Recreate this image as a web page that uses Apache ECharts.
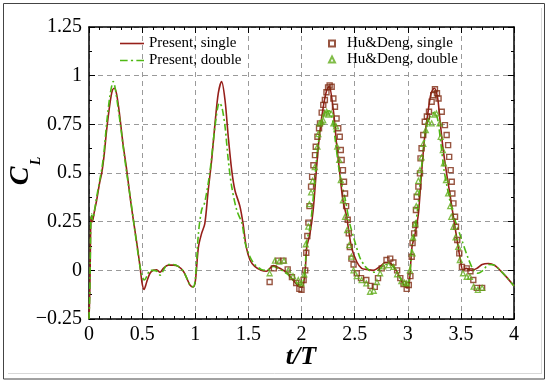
<!DOCTYPE html>
<html><head><meta charset="utf-8">
<script src="https://cdn.jsdelivr.net/npm/echarts@6/dist/echarts.min.js"></script>
<style>html,body{margin:0;padding:0;background:#fff}#c{width:550px;height:382px}</style>
</head><body><div id="c"></div>
<script>
// ---- data ----
const xTicks = [0,0.5,1,1.5,2,2.5,3,3.5,4];
const yTicks = [-0.25,0,0.25,0.5,0.75,1,1.25];
const seriesNames = ['Present, single','Present, double','Hu&Deng, single','Hu&Deng, double'];

const presentSingle = [
[0.0,-0.25],[0.008,-0.1],[0.014,0.15],[0.018,0.26],[0.025,0.28],[0.032,0.25],[0.04,0.27],[0.05,0.3],[0.072,0.36],[0.1,0.45],[0.12,0.5],[0.14,0.58],[0.166,0.72],[0.198,0.86],[0.22,0.925],[0.238,0.935],[0.26,0.905],[0.29,0.79],[0.32,0.65],[0.355,0.515],[0.386,0.38],[0.417,0.26],[0.45,0.14],[0.48,0.02],[0.5,-0.067],[0.518,-0.098],[0.543,-0.06],[0.574,-0.015],[0.605,0.0],[0.637,0.003],[0.668,-0.01],[0.70,0.01],[0.746,0.027],[0.793,0.027],[0.84,0.02],[0.888,-0.005],[0.92,-0.04],[0.95,-0.075],[0.98,-0.085],
[1.0,-0.06],[1.03,0.12],[1.06,0.19],[1.09,0.24],[1.12,0.40],[1.155,0.57],[1.186,0.755],[1.217,0.91],[1.248,0.97],[1.28,0.875],[1.31,0.69],[1.343,0.515],[1.374,0.41],[1.42,0.33],[1.45,0.24],[1.48,0.12],[1.515,0.053],[1.56,0.02],[1.62,0.0],[1.67,-0.005],[1.735,0.025],[1.78,0.015],[1.83,0.0],[1.87,-0.015],[1.92,-0.05],[1.96,-0.075],[1.99,-0.085],
[2.015,-0.08],[2.035,0.0],[2.05,0.12],[2.08,0.19],[2.11,0.31],[2.14,0.515],[2.17,0.70],[2.205,0.84],[2.237,0.925],[2.26,0.945],[2.3,0.82],[2.33,0.65],[2.36,0.50],[2.39,0.36],[2.425,0.275],[2.47,0.12],[2.52,0.044],[2.566,0.01],[2.61,0.005],[2.675,0.0],[2.74,0.02],[2.79,0.04],[2.84,0.035],[2.88,0.01],[2.93,-0.04],[2.97,-0.08],[2.995,-0.09],
[3.015,-0.06],[3.04,0.12],[3.07,0.19],[3.10,0.29],[3.13,0.50],[3.16,0.69],[3.19,0.81],[3.22,0.91],[3.25,0.935],[3.28,0.89],[3.30,0.79],[3.33,0.635],[3.365,0.50],[3.40,0.38],[3.43,0.275],[3.46,0.17],[3.49,0.07],[3.52,0.0],[3.55,0.01],[3.6,0.0],[3.65,0.01],[3.70,0.03],[3.76,0.035],[3.82,0.025],[3.87,0.0],[3.93,-0.035],[4.0,-0.08]
];

const presentDouble = [
[0.0,-0.25],[0.008,-0.1],[0.014,0.15],[0.018,0.26],[0.025,0.29],[0.032,0.26],[0.04,0.27],[0.05,0.3],[0.07,0.37],[0.1,0.46],[0.12,0.52],[0.14,0.6],[0.165,0.75],[0.195,0.89],[0.215,0.95],[0.228,0.97],[0.245,0.94],[0.27,0.85],[0.3,0.73],[0.33,0.6],[0.36,0.48],[0.39,0.37],[0.42,0.25],[0.45,0.13],[0.48,0.02],[0.5,-0.03],[0.52,-0.05],[0.545,-0.03],[0.575,0.0],[0.605,0.0],[0.64,-0.005],[0.67,-0.025],[0.70,0.0],[0.74,0.03],[0.79,0.03],[0.84,0.02],[0.888,-0.005],[0.92,-0.04],[0.95,-0.075],[0.98,-0.085],
[1.0,-0.05],[1.03,0.19],[1.06,0.31],[1.09,0.35],[1.14,0.515],[1.186,0.74],[1.227,0.86],[1.25,0.84],[1.28,0.74],[1.31,0.57],[1.343,0.43],[1.39,0.31],[1.44,0.24],[1.47,0.14],[1.515,0.07],[1.56,0.03],[1.62,0.005],[1.67,0.0],[1.735,0.02],[1.78,0.01],[1.83,-0.005],[1.87,-0.02],[1.92,-0.05],[1.96,-0.07],[1.99,-0.075],
[2.015,-0.06],[2.035,0.02],[2.05,0.15],[2.08,0.22],[2.11,0.37],[2.14,0.56],[2.17,0.70],[2.2,0.78],[2.23,0.81],[2.26,0.82],[2.29,0.78],[2.32,0.66],[2.35,0.53],[2.38,0.44],[2.41,0.37],[2.45,0.25],[2.49,0.17],[2.55,0.065],[2.6,0.02],[2.64,0.0],[2.69,-0.01],[2.74,0.01],[2.79,0.03],[2.84,0.03],[2.88,0.005],[2.93,-0.04],[2.97,-0.075],[2.995,-0.085],
[3.015,-0.05],[3.04,0.13],[3.07,0.22],[3.10,0.35],[3.13,0.53],[3.16,0.68],[3.19,0.76],[3.22,0.80],[3.25,0.81],[3.28,0.78],[3.31,0.66],[3.34,0.52],[3.37,0.43],[3.4,0.35],[3.45,0.25],[3.5,0.17],[3.57,0.06],[3.62,0.0],[3.66,-0.015],[3.71,0.0],[3.76,0.03],[3.82,0.025],[3.87,0.0],[3.93,-0.035],[4.0,-0.08]
];

const huDengSingle = [
[1.70,-0.06],[1.74,0.01],[1.78,0.05],[1.83,0.05],[1.87,0.005],[1.91,-0.035],[1.95,-0.065],[1.98,-0.095],[2.00,-0.1],[2.02,-0.05],[2.035,0.0],[2.045,0.09],[2.055,0.176],[2.065,0.245],[2.075,0.33],[2.09,0.43],[2.10,0.48],[2.112,0.54],[2.127,0.592],[2.134,0.635],[2.15,0.686],[2.165,0.73],[2.174,0.755],[2.19,0.81],[2.205,0.85],[2.22,0.875],[2.235,0.915],[2.25,0.94],[2.265,0.95],[2.284,0.943],[2.30,0.883],[2.315,0.84],[2.33,0.78],[2.346,0.73],[2.36,0.686],[2.37,0.618],[2.378,0.567],[2.39,0.515],[2.40,0.455],[2.41,0.395],[2.42,0.33],[2.435,0.26],[2.445,0.19],[2.455,0.12],[2.47,0.06],[2.49,0.03],[2.52,-0.015],[2.56,-0.04],[2.61,-0.05],[2.65,-0.08],[2.69,-0.085],[2.72,-0.04],[2.755,0.01],[2.80,0.053],[2.835,0.06],[2.865,0.04],[2.90,0.0],[2.93,-0.04],[2.96,-0.07],[2.99,-0.095],[3.01,-0.075],[3.025,-0.03],[3.037,0.07],[3.045,0.14],[3.06,0.19],[3.07,0.233],[3.077,0.31],[3.084,0.378],[3.10,0.43],[3.115,0.498],[3.12,0.575],[3.13,0.627],[3.146,0.695],[3.16,0.763],[3.18,0.79],[3.2,0.815],[3.225,0.866],[3.24,0.9],[3.256,0.93],[3.275,0.91],[3.29,0.883],[3.32,0.815],[3.35,0.746],[3.366,0.695],[3.38,0.643],[3.39,0.583],[3.404,0.515],[3.414,0.455],[3.42,0.395],[3.43,0.344],[3.445,0.275],[3.454,0.224],[3.466,0.156],[3.485,0.087],[3.51,0.018],[3.555,0.01],[3.59,-0.005],[3.617,-0.05],[3.65,-0.09],[3.70,-0.09]
];

const huDengDouble = [
[1.70,-0.015],[1.75,0.05],[1.79,0.045],[1.835,0.05],[1.875,0.0],[1.92,-0.03],[1.97,-0.05],[2.0,-0.067],[2.026,-0.02],[2.04,0.134],[2.064,0.225],[2.074,0.34],[2.09,0.40],[2.105,0.46],[2.125,0.53],[2.15,0.635],[2.158,0.70],[2.17,0.755],[2.19,0.763],[2.205,0.77],[2.22,0.806],[2.237,0.815],[2.25,0.80],[2.28,0.806],[2.30,0.755],[2.325,0.74],[2.336,0.635],[2.355,0.567],[2.37,0.464],[2.39,0.36],[2.41,0.275],[2.43,0.207],[2.45,0.13],[2.47,0.07],[2.49,0.0],[2.52,-0.03],[2.566,-0.05],[2.61,-0.067],[2.645,-0.11],[2.68,-0.105],[2.71,-0.06],[2.74,-0.015],[2.77,0.02],[2.82,0.027],[2.865,0.018],[2.9,-0.02],[2.94,-0.055],[2.97,-0.064],[2.99,-0.067],[3.02,0.0],[3.045,0.087],[3.05,0.17],[3.07,0.24],[3.08,0.33],[3.09,0.40],[3.10,0.46],[3.115,0.515],[3.13,0.58],[3.146,0.65],[3.17,0.72],[3.19,0.763],[3.225,0.755],[3.25,0.80],[3.27,0.806],[3.30,0.755],[3.31,0.686],[3.33,0.618],[3.34,0.55],[3.36,0.464],[3.38,0.395],[3.40,0.33],[3.41,0.275],[3.43,0.224],[3.45,0.17],[3.475,0.12],[3.49,0.053],[3.52,-0.015],[3.555,-0.033],[3.585,-0.033],[3.62,-0.084],[3.66,-0.1],[3.70,-0.09]
];

// ---- chart ----
const FONT = 'Liberation Serif';
const RED = '#961f1a';
const GREEN = '#4fb814';
const SQ = '#7e2a12';
const TRI = '#62ad1c';

const chart = echarts.init(document.getElementById('c'), null, {renderer:'canvas'});

const axLine = {show:true, onZero:false, lineStyle:{color:'#000', width:1.5}};
const axTick = {show:true, inside:true, length:6, lineStyle:{color:'#000', width:1}};
const grid = {show:true, lineStyle:{color:'#9a9a9a', type:[5,4], width:1}};

const SOLID_ICON = 'path://M0,0H24V1.6H0Z';
const DASHDOT_ICON = 'path://M0,0H7V1.6H0Z M10,0H12V1.6H10Z M15,0H22V1.6H15Z';

const option = {
  animation:false,
  backgroundColor:'#fff',
  grid:{left:89, top:27, width:425, height:292, containLabel:false},
  xAxis:[
    {type:'value', min:0, max:4, interval:0.5, position:'bottom',
      axisLine:axLine, axisTick:axTick,
      axisLabel:{color:'#000', fontFamily:FONT, fontSize:20, margin:6},
      splitLine:grid,
      minorTick:{show:true, splitNumber:5, length:3, lineStyle:{color:'#000'}}},
    {type:'value', min:0, max:4, interval:0.5, position:'top',
      axisLine:axLine, axisTick:axTick,
      minorTick:{show:true, splitNumber:5, length:3, lineStyle:{color:'#000'}},
      axisLabel:{show:false}, splitLine:{show:false}}
  ],
  yAxis:[
    {type:'value', min:-0.25, max:1.25, interval:0.25, position:'left',
      axisLine:axLine, axisTick:axTick,
      minorTick:{show:true, splitNumber:2, length:3, lineStyle:{color:'#000'}},
      axisLabel:{color:'#000', fontFamily:FONT, fontSize:20, margin:7,
        formatter:v=>String(v).replace('-', '\u2212')},
      splitLine:grid},
    {type:'value', min:-0.25, max:1.25, interval:0.25, position:'right',
      axisLine:axLine, axisTick:axTick,
      minorTick:{show:true, splitNumber:2, length:3, lineStyle:{color:'#000'}},
      axisLabel:{show:false}, splitLine:{show:false}}
  ],
  legend:[
    {data:[{name:seriesNames[0], icon:SOLID_ICON}, {name:seriesNames[1], icon:DASHDOT_ICON}],
      orient:'vertical', left:120, top:36, padding:0, symbolKeepAspect:true,
      itemWidth:24, itemHeight:14, itemGap:2,
      textStyle:{color:'#000', fontFamily:FONT, fontSize:15, padding:[0,0,0,0]}},
    {data:[seriesNames[2], seriesNames[3]], orient:'vertical', left:328, top:36, padding:0,
      itemWidth:6, itemHeight:6, itemGap:1,
      textStyle:{color:'#000', fontFamily:FONT, fontSize:15, padding:[0,0,0,7]}}
  ],
  series:[
    {name:seriesNames[0], type:'line', data:presentSingle, symbol:'none', smooth:0.3,
      lineStyle:{color:RED, width:1.6}, itemStyle:{color:RED}, z:3},
    {name:seriesNames[1], type:'line', data:presentDouble, symbol:'none', smooth:0.3,
      lineStyle:{color:GREEN, width:1.6, type:[7,3,2,3]}, itemStyle:{color:GREEN}, z:4},
    {name:seriesNames[2], type:'scatter', data:huDengSingle, symbol:'rect', symbolSize:5,
      itemStyle:{color:'rgba(255,255,255,0)', borderColor:SQ, borderWidth:1.4}, z:5},
    {name:seriesNames[3], type:'scatter', data:huDengDouble, symbol:'triangle', symbolSize:5,
      itemStyle:{color:'rgba(255,255,255,0)', borderColor:TRI, borderWidth:1.3}, z:6}
  ],
  graphic:[
    {type:'rect', shape:{x:3.5, y:3.5, width:541, height:375.5}, style:{fill:'none', stroke:'#444', lineWidth:1}, silent:true},
    {type:'line', shape:{x1:541.5, y1:8, x2:541.5, y2:374}, style:{stroke:'#d8d8d8', lineWidth:1}, silent:true},
    {type:'line', shape:{x1:8, y1:373.5, x2:541.5, y2:373.5}, style:{stroke:'#d8d8d8', lineWidth:1}, silent:true},
    {type:'text', x:21, y:176, rotation:Math.PI/2,
      style:{text:'C', font:'italic bold 28px "Liberation Serif"', fill:'#000', textAlign:'center', textVerticalAlign:'middle'}},
    {type:'text', x:36, y:161, rotation:Math.PI/2,
      style:{text:'L', font:'italic bold 14px "Liberation Serif"', fill:'#000', textAlign:'center', textVerticalAlign:'middle'}},
    {type:'text', x:301, y:357,
      style:{text:'t/T', font:'italic bold 26px "Liberation Serif"', fill:'#000', textAlign:'center', textVerticalAlign:'middle'}}
  ]
};
chart.setOption(option);
</script>
</body></html>
